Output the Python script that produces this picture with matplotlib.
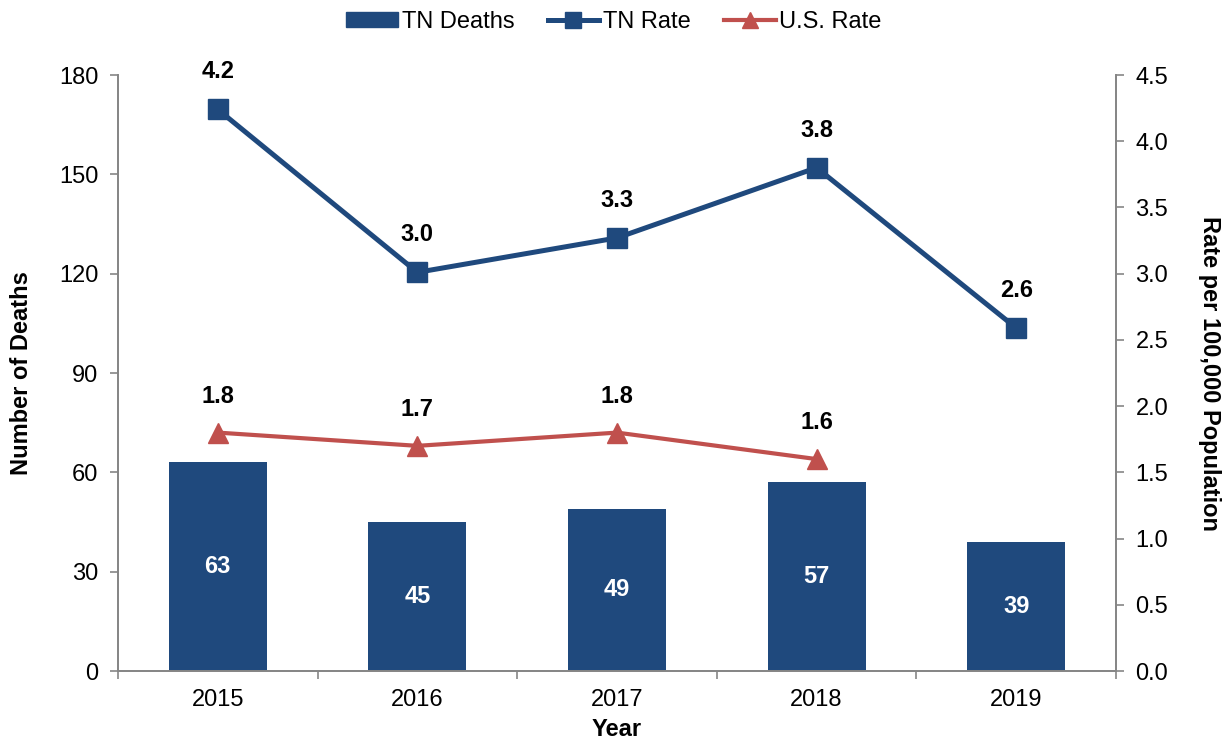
import matplotlib
matplotlib.use("Agg")
import matplotlib.pyplot as plt
from matplotlib.patches import Patch
from matplotlib.lines import Line2D

plt.rcParams['font.family'] = ['Liberation Sans', 'DejaVu Sans']

years = ["2015", "2016", "2017", "2018", "2019"]
tn_deaths = [63, 45, 49, 57, 39]
tn_rate = [4.24, 3.01, 3.27, 3.80, 2.59]
us_years = ["2015", "2016", "2017", "2018"]
us_rate = [1.8, 1.7, 1.8, 1.6]

navy = "#1F497D"
red = "#C0504D"
gray = "#868686"
FS = 17

fig = plt.figure(figsize=(12.25, 7.44), dpi=100)
ax = fig.add_axes([118/1225, 1-671/744, (1116-118)/1225, (671-75)/744])
ax2 = ax.twinx()

x = list(range(len(years)))
ax.bar(x, tn_deaths, width=0.49, color=navy, zorder=2)
for xi, v in zip(x, tn_deaths):
    ax.text(xi, v/2, f"{v}", ha="center", va="center", color="white",
            fontsize=FS, fontweight="bold")

ax.set_xlim(-0.5, len(years)-0.5)
ax.set_ylim(0, 180)
ax.set_yticks(range(0, 181, 30))
ax.set_xticks(x)
ax.set_xticklabels(years)
ax.set_xticks([i-0.5 for i in range(len(years)+1)], minor=True)
ax.tick_params(axis='x', which='major', length=0, pad=13, labelsize=FS)
ax.tick_params(axis='x', which='minor', length=6, color=gray, width=1.2)
ax.tick_params(axis='y', length=6, color=gray, width=1.2, labelsize=FS, pad=8)

ax2.set_ylim(0, 4.5)
ax2.set_yticks([i*0.5 for i in range(10)])
ax2.set_yticklabels([f"{i*0.5:.1f}" for i in range(10)])
ax2.tick_params(axis='y', length=6, color=gray, width=1.2, labelsize=FS, pad=8)

for a in (ax, ax2):
    a.spines['top'].set_visible(False)
    for s in ('left', 'right', 'bottom'):
        a.spines[s].set_color(gray)
        a.spines[s].set_linewidth(1.3)

ax2.plot(x, tn_rate, color=navy, lw=3.6, marker='s', ms=14, zorder=3)
ux = [years.index(y) for y in us_years]
ax2.plot(ux, us_rate, color=red, lw=3.0, marker='^', ms=14, zorder=3)

for xi, v in zip(x, tn_rate):
    ax2.annotate(f"{v:.1f}", (xi, v), xytext=(0, 27), textcoords="offset points",
                 ha="center", va="center", fontsize=FS, fontweight="bold")
for xi, v in zip(ux, us_rate):
    ax2.annotate(f"{v:.1f}", (xi, v), xytext=(0, 26), textcoords="offset points",
                 ha="center", va="center", fontsize=FS, fontweight="bold")

ax.set_xlabel("Year", fontsize=FS, fontweight="bold", labelpad=5)
ax.set_ylabel("Number of Deaths", fontsize=FS, fontweight="bold", labelpad=19)
ax2.set_ylabel("Rate per 100,000 Population", fontsize=FS, fontweight="bold",
               rotation=270, labelpad=38)

handles = [
    Patch(facecolor=navy, edgecolor=navy),
    Line2D([0], [0], color=navy, lw=3.6, marker='s', ms=11),
    Line2D([0], [0], color=red, lw=3.0, marker='^', ms=11),
]
fig.legend(handles, ["TN Deaths", "TN Rate", "U.S. Rate"], loc="center",
           bbox_to_anchor=(614/1225, 1-22/744), ncol=3, frameon=False,
           fontsize=FS, handlelength=2.2, handleheight=0.6,
           handletextpad=0.15, columnspacing=1.4)

fig.savefig("out.png", dpi=100)
